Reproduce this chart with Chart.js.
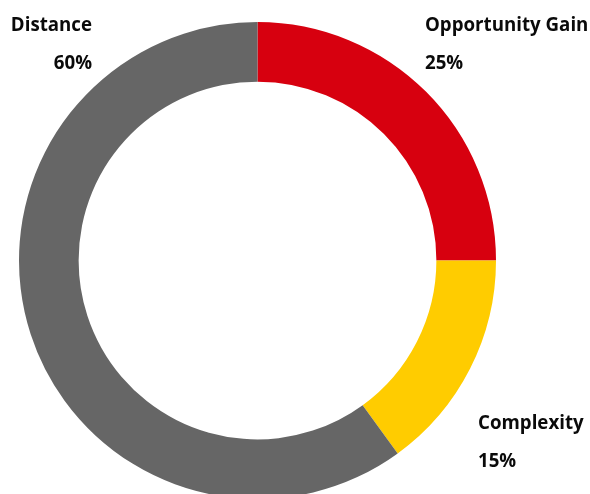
<!DOCTYPE html>
<html lang="en">
  <head>
    <meta charset="UTF-8" />
    <title>Doughnut</title>
    <style>
      html, body {
        margin: 0;
        padding: 0;
        background: #ffffff;
        overflow: hidden;
      }
      .chart-box {
        position: relative;
        width: 590px;
        height: 540px;
      }
    </style>
  </head>
  <body>
    <div class="chart-box">
      <canvas id="ringChart"></canvas>
    </div>

    <script src="https://cdn.jsdelivr.net/npm/chart.js"></script>
    <script>
      // Segment data, clockwise from the top
      const categories = ['Opportunity Gain', 'Complexity', 'Distance'];
      const shares = [25, 15, 60];
      const colours = ['#d7000f', '#ffcc00', '#666666'];

      // Label placement: [x, y of name, y of percent, align]
      const labelSpots = {
        'Opportunity Gain': [425, 26, 64, 'left'],
        'Complexity': [478, 424, 462, 'left'],
        'Distance': [92, 26, 64, 'right']
      };

      const labelFont = 'bold 18.7px "Open Sans", sans-serif';

      const cornerLabels = {
        id: 'cornerLabels',
        afterDraw(chart) {
          const ctx = chart.ctx;
          ctx.save();
          ctx.font = labelFont;
          ctx.fillStyle = '#0a0a0a';
          ctx.textBaseline = 'middle';
          categories.forEach((name, i) => {
            const spot = labelSpots[name];
            ctx.textAlign = spot[3];
            ctx.fillText(name, spot[0], spot[1]);
            ctx.fillText(shares[i] + '%', spot[0], spot[2]);
          });
          ctx.restore();
        }
      };

      const ctx = document.getElementById('ringChart').getContext('2d');
      new Chart(ctx, {
        type: 'doughnut',
        data: {
          labels: categories,
          datasets: [{
            data: shares,
            backgroundColor: colours,
            borderWidth: 0
          }]
        },
        options: {
          responsive: true,
          maintainAspectRatio: false,
          animation: false,
          cutout: '75%',
          layout: {
            padding: { left: 19, right: 94, top: 22, bottom: 41 }
          },
          plugins: {
            legend: { display: false },
            tooltip: { enabled: false }
          }
        },
        plugins: [cornerLabels]
      });
    </script>
  </body>
</html>
